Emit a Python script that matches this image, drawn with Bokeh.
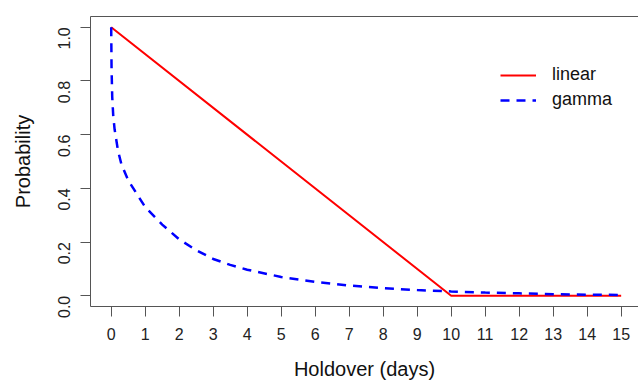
import math
from bokeh.plotting import figure
from bokeh.models import LinearAxis, FixedTicker, Range1d, Legend, LegendItem
from bokeh.embed import file_html
from bokeh.resources import INLINE

# ---- data ----
linear_x = [0, 10, 15]
linear_y = [1.0, 0.0, 0.0]

gamma_x = [0, 0.01, 0.03, 0.06, 0.1, 0.2, 0.3, 0.5, 0.75, 1.0, 1.5, 2.0, 2.5,
           3.0, 3.5, 4.0, 5.0, 6.0, 7.0, 8.0, 9.0, 10.0, 11.0, 12.0, 13.0, 14.0, 15.0]
gamma_y = [1.0, 0.85, 0.74, 0.67, 0.62, 0.54, 0.49, 0.43, 0.38, 0.33, 0.265, 0.21, 0.17,
           0.137, 0.115, 0.097, 0.07, 0.052, 0.038, 0.028, 0.021, 0.016, 0.012, 0.009,
           0.006, 0.004, 0.003]

x_ticks = list(range(0, 16))
y_ticks = [0.0, 0.2, 0.4, 0.6, 0.8, 1.0]
y_tick_labels = {0.0: "0.0", 0.2: "0.2", 0.4: "0.4", 0.6: "0.6", 0.8: "0.8", 1.0: "1.0"}

FONT = "Liberation Sans"
AX = "#555555"

p = figure(width=638, height=383, output_backend="svg", toolbar_location=None,
           x_range=Range1d(-0.609, 15.51), y_range=Range1d(-0.04, 1.04),
           min_border_left=90, min_border_right=0, min_border_top=16, min_border_bottom=77)
p.grid.visible = False
p.outline_line_color = None
p.background_fill_color = "white"

r1 = p.line(linear_x, linear_y, line_color="#FF0000", line_width=2)
r2 = p.line(gamma_x, gamma_y, line_color="#0000FF", line_width=2.5, line_dash="9 7")

# axes
xa = p.xaxis[0]
xa.ticker = FixedTicker(ticks=x_ticks)
xa.axis_label = "Holdover (days)"
ya = p.yaxis[0]
ya.ticker = FixedTicker(ticks=y_ticks)
ya.major_label_overrides = y_tick_labels
ya.axis_label = "Probability"
ya.major_label_orientation = math.pi / 2

for ax in (xa, ya):
    ax.axis_line_color = AX
    ax.major_tick_line_color = AX
    ax.minor_tick_line_color = None
    ax.major_tick_in = 0
    ax.major_tick_out = 10
    ax.major_label_text_font = FONT
    ax.major_label_text_font_size = "16px"
    ax.major_label_text_color = "#222222"
    ax.axis_label_text_font = FONT
    ax.axis_label_text_font_size = "20px"
    ax.axis_label_text_font_style = "normal"
    ax.axis_label_text_color = "#111111"

xa.major_label_standoff = 11
xa.axis_label_standoff = 15
ya.major_label_standoff = 16
ya.axis_label_standoff = 16

top = LinearAxis(ticker=FixedTicker(ticks=[]), axis_line_color=AX,
                 major_tick_line_color=None, minor_tick_line_color=None,
                 major_label_text_font_size="0px", major_tick_out=0, major_label_standoff=0)
p.add_layout(top, "above")

legend = Legend(items=[LegendItem(label="linear", renderers=[r1]),
                       LegendItem(label="gamma", renderers=[r2])],
                location=(410, 196))
legend.glyph_width = 36
legend.glyph_height = 20
legend.spacing = 4
legend.padding = 0
legend.margin = 0
legend.label_standoff = 16
legend.label_text_font = FONT
legend.label_text_font_size = "18px"
legend.label_text_color = "#111111"
legend.background_fill_alpha = 0
legend.border_line_color = None
p.add_layout(legend)

open("out.html", "w").write(file_html(p, INLINE))
